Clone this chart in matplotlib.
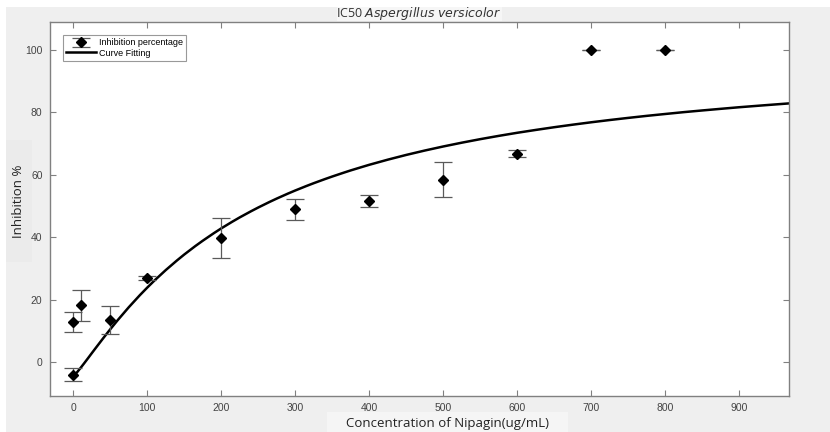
import matplotlib
matplotlib.use("Agg")
import matplotlib.pyplot as plt
from matplotlib.patches import Rectangle

# Measured inhibition (mean and spread of replicates)
conc = [0, 0, 10, 50, 100, 200, 300, 400, 500, 600, 700, 800]
inhibition = [-4.0, 13.0, 18.2, 13.5, 26.9, 39.6, 48.9, 51.6, 58.3, 66.7, 100.0, 100.0]
inhibition_err = [2.0, 3.2, 5.0, 4.4, 0.6, 6.4, 3.4, 2.0, 5.6, 1.2, 0.0, 0.0]

# Fitted dose-response curve
fit_conc = [0, 5, 10, 15, 20, 25, 30, 40, 50, 60, 75, 90, 100, 110, 125, 140, 150,
            165, 175, 190, 200, 215, 225, 240, 250, 265, 275, 290, 300, 315, 325,
            340, 350, 365, 375, 390, 400, 425, 450, 475, 500, 525, 550, 575, 600,
            625, 650, 675, 700, 725, 750, 775, 800, 825, 850, 875, 900, 933, 967]
fit_inhibition = [-4.40, -3.27, -1.81, -0.28, 1.28, 2.86, 4.42, 7.51, 10.52, 13.42,
                  17.56, 21.43, 23.86, 26.18, 29.46, 32.51, 34.44, 37.15, 38.85,
                  41.27, 42.80, 44.95, 46.32, 48.25, 49.48, 51.23, 52.34, 53.92,
                  54.92, 56.35, 57.26, 58.56, 59.39, 60.58, 61.35, 62.43, 63.14,
                  64.78, 66.30, 67.70, 69.00, 70.21, 71.34, 72.39, 73.38, 74.29,
                  75.16, 75.97, 76.74, 77.46, 78.14, 78.79, 79.39, 79.98, 80.52,
                  81.04, 81.55, 82.16, 82.77]

x_ticks = [0, 100, 200, 300, 400, 500, 600, 700, 800, 900]
y_ticks = [0, 20, 40, 60, 80, 100]

W, H = 830, 432
fig = plt.figure(figsize=(W / 100, H / 100), dpi=100, facecolor="white")

# grey figure panel and lighter label backdrops
fig.patches.append(Rectangle((6 / W, 0), 1, 1 - 7 / H, transform=fig.transFigure,
                             facecolor="#efefef", edgecolor="none", zorder=-10))
fig.patches.append(Rectangle((337 / W, 1 - 21 / H), 165 / W, 14 / H, transform=fig.transFigure,
                             facecolor="#f6f6f6", edgecolor="none", zorder=-9))
fig.patches.append(Rectangle((6 / W, 1 - 262 / H), 26 / W, 122 / H, transform=fig.transFigure,
                             facecolor="#ebebeb", edgecolor="none", zorder=-9))
fig.patches.append(Rectangle((327 / W, 0), 241 / W, 20 / H, transform=fig.transFigure,
                             facecolor="#f5f5f5", edgecolor="none", zorder=-9))

ax = fig.add_axes([49.5 / W, 1 - 395.7 / H, (789 - 49.5) / W, (395.7 - 22) / H])
ax.set_facecolor("white")

eb = ax.errorbar(conc, inhibition, yerr=inhibition_err, fmt="D", color="black",
                 markersize=5.0, ecolor="#5a5a5a", elinewidth=0.9, capsize=6.5,
                 capthick=0.9, label="Inhibition percentage", zorder=3)
ln, = ax.plot(fit_conc, fit_inhibition, color="black", linewidth=1.8,
              label="Curve Fitting", zorder=2, solid_joinstyle="round")

ax.set_xlim(-32, 967)
ax.set_ylim(-10.7, 108.8)
ax.set_xticks(x_ticks)
ax.set_yticks(y_ticks)

for s in ax.spines.values():
    s.set_color("#808080")
    s.set_linewidth(1.0)
ax.tick_params(direction="in", length=4.5, width=0.8, color="#808080",
               top=True, right=True, labelsize=7.5, labelcolor="#444444", pad=5)
for lab in ax.get_xticklabels() + ax.get_yticklabels():
    lab.set_fontfamily("Liberation Sans")

fig.text(419 / W, 1 - 14 / H, "IC50 $\\it{Aspergillus\\ versicolor}$",
         ha="center", va="center", fontsize=9, color="#333333", family="Open Sans")
fig.text(447 / W, 1 - 423 / H, "Concentration of Nipagin(ug/mL)",
         ha="center", va="center", fontsize=9.5, color="#222222", family="Open Sans")
fig.text(19 / W, 1 - 201 / H, "Inhibition %", rotation=90,
         ha="center", va="center", fontsize=9.5, color="#222222", family="Open Sans")

leg = ax.legend([eb, ln], ["Inhibition percentage", "Curve Fitting"],
                loc="upper left", bbox_to_anchor=(0.0187, 0.965),
                frameon=True, fancybox=False, borderpad=0.35, handlelength=3.3,
                handletextpad=0.3, labelspacing=0.15, borderaxespad=0,
                prop={"family": "Liberation Sans", "size": 6.5})
leg.get_frame().set_edgecolor("#808080")
leg.get_frame().set_linewidth(0.8)

fig.savefig("out.png", dpi=100, facecolor="white")
